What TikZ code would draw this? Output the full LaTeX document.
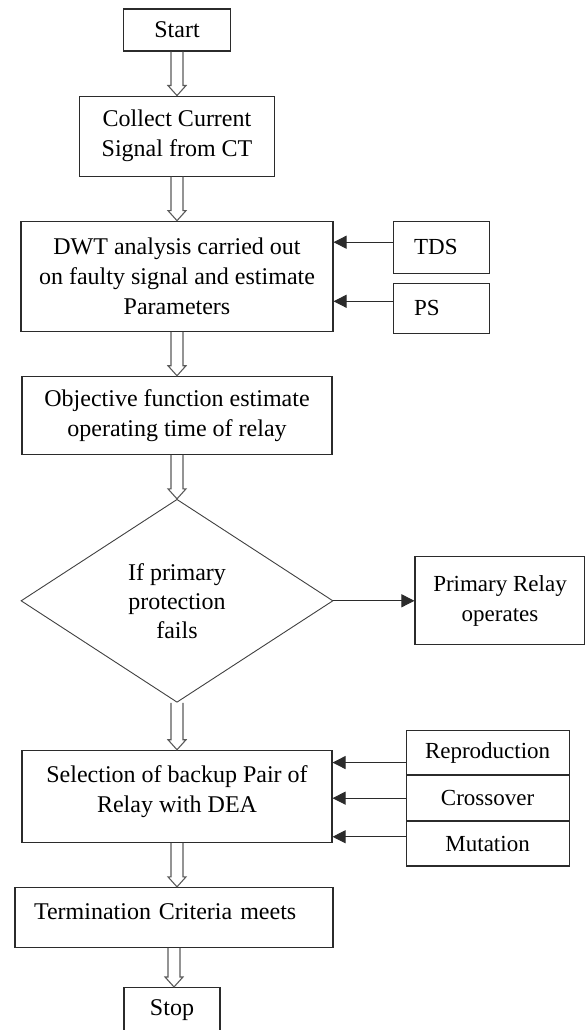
\documentclass[tikz,border=0pt]{standalone}
\usepackage{fontspec}
\setmainfont{Liberation Serif}
\usetikzlibrary{arrows.meta,calc,positioning,shapes.geometric}
\definecolor{boxEdge}{HTML}{2B2B2B}
\definecolor{pipeEdge}{HTML}{5A5A5A}
\tikzset{
  fbox/.style n args={2}{draw=boxEdge, line width=1.1pt, align=center, inner sep=0pt,
        font=\fontsize{24}{30}\selectfont, minimum width=#1, minimum height=#2},
  fside/.style n args={2}{draw=boxEdge, line width=1.1pt, align=center, inner sep=0pt,
        font=\fontsize{23}{30}\selectfont, minimum width=#1, minimum height=#2},
  fdec/.style={draw=black!75, line width=0.9pt, diamond, align=center, inner sep=0pt,
        font=\fontsize{24}{29}\selectfont, minimum width=312pt, minimum height=203pt},
  flow/.style={-{Triangle[length=13pt,width=13pt]}, line width=1pt, draw=boxEdge},
  hflow/.style={draw=pipeEdge, line width=1.1pt, line join=miter},
}
% open block arrow between two stacked boxes
\newcommand{\hollowflow}[2]{%
  \draw[hflow] let \p1=(#1.south), \p2=(#2.north) in
    (\x1-6pt,\y1) -- (\x1-6pt,\y2+10pt) -- (\x1-9pt,\y2+10pt) -- (\x1,\y2)
    -- (\x1+9pt,\y2+10pt) -- (\x1+6pt,\y2+10pt) -- (\x1+6pt,\y1);}

\begin{document}
\begin{tikzpicture}[x=1pt, y=-1pt, node distance=44pt and 60pt]
  \useasboundingbox (0,0) rectangle (585,1030);
  % main column
  \node[fbox={107pt}{42pt}] (start) at (177,30) {Start};
  \node[fbox={195pt}{80pt}, below=of start] (collect) {Collect Current\\Signal from CT};
  \node[fbox={312pt}{110pt}, below=of collect] (dwt) {DWT analysis carried out\\on faulty signal and estimate\\Parameters};
  \node[fbox={310pt}{78pt}, below=of dwt] (obj) {Objective function estimate\\operating time of relay};
  \node[fdec, below=of obj] (fail) {If primary\\protection\\fails};
  \node[fbox={310pt}{92pt}, below=47pt of fail, text depth=15pt] (sel) {Selection of backup Pair of\\Relay with DEA};
  \node[fbox={318pt}{60pt}, below=of sel, xshift=-3pt, text depth=12pt,
        text width=280pt, align=left, inner xsep=19pt] (term) {Termination Criteria meets};
  \node[fbox={96pt}{46pt}, below=39pt of term, xshift=-2pt] (stop) {Stop};
  % side inputs
  \node[fside={96pt}{52pt}, right=59pt of dwt.north east, anchor=north west,
        text width=54pt, align=left, inner xsep=21pt] (tds) {TDS};
  \node[fside={96pt}{50pt}, below=9pt of tds, text width=54pt, align=left, inner xsep=21pt] (ps) {PS};
  \node[fside={170pt}{88pt}, right=81pt of fail] (prim) {Primary Relay\\operates};
  \node[fside={163pt}{44.5pt}, right=73pt of sel.north east, anchor=north west, yshift=20pt] (rep) {Reproduction};
  \node[fside={163pt}{44.5pt}, below=0pt of rep] (cross) {Crossover};
  \node[fside={163pt}{44.5pt}, below=0pt of cross] (mut) {Mutation};
  % edges
  \foreach \a/\b in {start/collect, collect/dwt, dwt/obj, obj/fail, fail/sel, sel/term, term/stop}
    \hollowflow{\a}{\b};
  \draw[flow] ([yshift=5pt]tds.west) coordinate (t1) -- (t1 -| dwt.east);
  \draw[flow] ([yshift=7pt]ps.west) coordinate (t2) -- (t2 -| dwt.east);
  \draw[flow] (fail.east) -- (prim.west);
  \draw[flow] ([yshift=-10pt]rep.west) coordinate (t3) -- (t3 -| sel.east);
  \draw[flow] (cross.west) coordinate (t4) -- (t4 -| sel.east);
  \draw[flow] ([yshift=7pt]mut.west) coordinate (t5) -- (t5 -| sel.east);
\end{tikzpicture}
\end{document}
